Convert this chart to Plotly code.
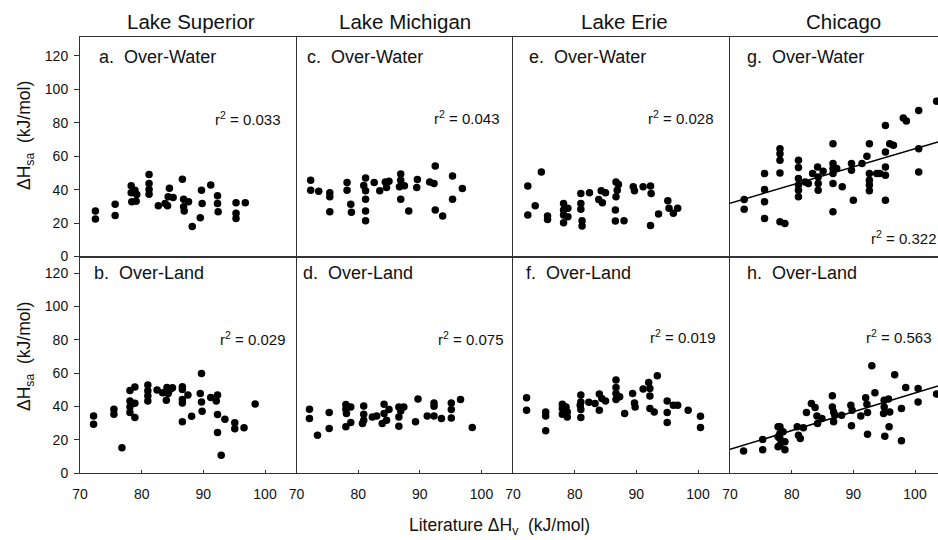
import numpy as np
import plotly.graph_objects as go

# ---------------- data ----------------
columns = ["Lake Superior", "Lake Michigan", "Lake Erie", "Chicago"]
panel_labels = ["a.  Over-Water", "c.  Over-Water", "e.  Over-Water", "g.  Over-Water",
                "b.  Over-Land", "d.  Over-Land", "f.  Over-Land", "h.  Over-Land"]
r2_values = ["0.033", "0.043", "0.028", "0.322", "0.029", "0.075", "0.019", "0.563"]
x_ticks = [70, 80, 90, 100]
y_ticks = [0, 20, 40, 60, 80, 100, 120]

sup_water_x = [72.5, 72.5, 75.7, 75.7, 78.3, 78.3, 78.4, 78.9, 79.1, 79.2, 81.2, 81.2, 81.2, 81.2,
               82.7, 83.8, 84.2, 84.5, 84.3, 85.1, 86.6, 86.8, 86.8, 86.9, 87.6, 88.2, 89.7, 89.8,
               89.5, 91.2, 92.3, 92.3, 92.4, 95.3, 95.3, 95.3, 96.8]
sup_water_y = [27.2, 22.4, 31.3, 24.6, 42.3, 38.1, 32.7, 39.7, 33.1, 37.1, 49.0, 43.7, 40.1, 37.3,
               30.4, 31.7, 30.4, 40.9, 35.7, 35.3, 46.2, 34.3, 29.8, 27.2, 32.7, 17.9, 39.7, 31.7,
               23.2, 42.7, 36.3, 31.7, 26.8, 32.1, 25.8, 22.8, 32.1]

sup_land_x = [72.2, 72.2, 75.5, 75.5, 76.8, 78.1, 78.1, 78.1, 78.1, 78.9, 78.9, 78.9, 81.0, 81.0,
              81.0, 81.0, 82.5, 83.4, 84.1, 84.0, 84.3, 84.7, 85.0, 86.6, 86.6, 86.6, 86.6, 86.6,
              87.5, 88.1, 89.5, 89.7, 89.7, 89.8, 91.2, 92.1, 92.3, 92.3, 92.3, 92.9, 93.5, 95.1,
              95.1, 96.6, 98.4]
sup_land_y = [34.3, 29.3, 38.3, 35.3, 15.1, 49.6, 43.3, 39.7, 36.3, 51.6, 41.9, 33.3, 52.8, 49.4,
              46.4, 43.3, 49.8, 48.2, 51.4, 43.7, 47.8, 50.4, 51.2, 51.8, 50.2, 44.2, 42.1, 30.7,
              46.8, 34.1, 47.8, 59.8, 42.7, 37.1, 45.4, 43.3, 46.8, 35.1, 24.3, 10.6, 32.3, 30.1,
              26.5, 27.1, 41.5]

mich_water_x = [72.3, 72.3, 73.6, 75.4, 75.4, 75.4, 78.2, 78.2, 78.8, 78.9, 81.2, 80.9, 81.2, 81.2,
                81.2, 81.2, 82.6, 83.5, 84.4, 85.0, 84.6, 86.9, 86.9, 86.7, 87.5, 86.9, 88.2, 89.6,
                89.5, 91.6, 92.3, 92.5, 92.5, 93.7, 95.3, 95.3, 96.9]
mich_water_y = [45.6, 39.7, 39.1, 38.1, 35.7, 26.8, 44.2, 39.7, 31.2, 26.4, 47.0, 42.5, 39.3, 34.3,
                27.2, 21.4, 44.2, 39.3, 44.6, 45.0, 41.3, 49.4, 45.6, 41.7, 42.3, 34.3, 27.2, 46.0,
                41.3, 44.6, 43.7, 54.2, 27.8, 24.2, 48.2, 34.3, 40.7]

mich_land_x = [72.1, 72.1, 73.4, 75.3, 75.3, 78.0, 78.0, 78.1, 78.0, 78.8, 78.8, 80.9, 80.9, 80.9,
               80.7, 82.3, 83.0, 83.9, 84.2, 84.2, 84.6, 85.0, 86.6, 86.6, 86.6, 87.4, 86.9, 89.7,
               89.3, 91.2, 92.3, 92.3, 92.3, 93.5, 95.1, 95.1, 95.1, 96.6, 98.5]
mich_land_y = [38.3, 32.7, 22.7, 36.3, 26.7, 41.1, 38.3, 35.7, 27.7, 39.7, 30.3, 40.3, 35.3, 31.7,
               29.7, 33.7, 34.3, 29.7, 41.3, 35.7, 31.7, 38.1, 39.7, 33.7, 28.1, 39.7, 37.3, 44.4,
               30.7, 34.3, 42.1, 40.1, 34.3, 32.7, 42.1, 38.1, 33.1, 44.2, 27.3]

erie_water_x = [72.4, 72.4, 73.6, 74.6, 75.6, 75.6, 78.2, 78.2, 78.2, 78.2, 78.9, 78.9, 81.0, 81.0,
                81.0, 81.2, 81.2, 82.4, 83.9, 84.3, 84.5, 85.0, 86.7, 86.9, 86.7, 86.6, 86.6, 87.1,
                88.0, 89.5, 89.7, 91.1, 92.3, 92.4, 92.3, 93.6, 95.1, 95.3, 96.0, 96.7]
erie_water_y = [42.1, 24.8, 30.4, 50.6, 24.2, 22.2, 31.7, 27.8, 24.8, 20.2, 28.8, 23.8, 37.7, 31.7,
                28.2, 21.4, 18.3, 38.1, 34.1, 39.3, 32.1, 38.1, 44.6, 39.7, 35.7, 27.8, 21.2, 43.1,
                21.4, 41.7, 39.3, 41.7, 42.1, 37.7, 18.5, 25.4, 33.3, 28.8, 25.8, 28.8]

erie_land_x = [72.2, 72.2, 75.3, 75.3, 75.3, 78.0, 78.0, 78.0, 78.6, 78.8, 78.8, 81.0, 81.0, 80.9,
               81.0, 81.0, 82.3, 83.3, 84.0, 84.0, 84.4, 85.0, 86.7, 86.7, 86.7, 86.7, 87.3, 88.1,
               89.4, 89.7, 89.8, 91.1, 92.0, 92.2, 92.2, 92.2, 92.9, 93.4, 95.0, 95.0, 95.0, 96.0,
               96.7, 98.4, 100.4, 100.4]
erie_land_y = [45.2, 37.7, 36.7, 34.3, 25.3, 41.3, 38.7, 35.3, 39.7, 36.7, 33.7, 46.8, 42.7, 40.7,
               38.1, 33.3, 42.5, 41.7, 47.4, 37.7, 44.8, 43.3, 55.8, 51.4, 47.8, 44.2, 45.8, 35.7,
               47.8, 42.1, 39.7, 50.4, 54.4, 50.8, 46.2, 38.7, 36.7, 58.4, 43.3, 36.3, 30.3, 40.7,
               40.7, 37.7, 34.1, 27.3]

chi_water_x = [72.3, 72.3, 75.6, 75.6, 75.6, 75.6, 78.1, 78.1, 78.1, 78.1, 78.1, 78.9, 81.1, 81.1,
               81.1, 81.1, 81.1, 81.1, 82.2, 82.7, 83.4, 84.2, 84.3, 84.3, 84.3, 85.1, 86.7, 86.7,
               86.7, 86.7, 86.7, 86.7, 87.3, 88.2, 89.7, 89.7, 90.0, 91.4, 92.2, 92.6, 92.6, 92.6,
               92.6, 92.6, 93.8, 94.3, 95.2, 95.2, 95.2, 95.2, 95.2, 95.9, 96.5, 98.1, 98.6, 100.6,
               100.6, 100.6, 103.5]
chi_water_y = [34.1, 28.2, 49.6, 40.1, 32.7, 22.8, 64.5, 61.5, 57.5, 50.0, 20.8, 19.8, 57.5, 53.2,
               46.6, 42.7, 39.7, 35.7, 44.6, 43.7, 49.6, 53.6, 47.6, 43.7, 39.7, 51.0, 67.5, 55.6,
               52.6, 49.6, 43.7, 26.8, 52.6, 41.7, 55.6, 51.6, 33.7, 55.6, 59.9, 67.5, 49.6, 45.6,
               42.7, 39.3, 49.6, 49.6, 78.4, 62.5, 53.6, 48.6, 33.7, 67.5, 66.5, 82.9, 81.0, 87.3,
               64.5, 50.6, 92.9]

chi_land_x = [72.2, 75.3, 75.3, 77.8, 77.8, 77.8, 78.1, 78.1, 78.1, 78.1, 78.6, 78.9, 78.9, 80.9,
              81.1, 81.4, 81.9, 82.4, 83.2, 83.8, 84.1, 84.2, 84.9, 86.6, 86.6, 86.8, 86.8, 87.0,
              88.1, 89.6, 89.8, 89.7, 91.2, 92.0, 92.2, 92.3, 92.3, 93.0, 93.5, 95.0, 95.0, 94.9,
              95.1, 95.7, 95.8, 95.9, 96.7, 97.8, 97.8, 98.5, 100.5, 100.5, 103.5]
chi_land_y = [13.2, 20.1, 14.0, 27.7, 21.7, 15.7, 27.7, 23.7, 20.7, 16.7, 24.7, 14.0, 18.7, 27.7,
              22.7, 20.7, 27.1, 36.3, 41.7, 39.3, 34.3, 29.7, 32.7, 46.4, 39.7, 36.7, 30.7, 34.7,
              34.7, 40.7, 37.7, 28.3, 34.3, 45.2, 41.3, 36.3, 23.3, 64.4, 48.2, 43.7, 39.7, 35.7,
              22.1, 44.4, 27.7, 36.7, 59.0, 38.7, 19.3, 51.4, 50.8, 42.7, 47.4]

# regression lines (slope, intercept)
chi_water_fit = (1.085, -44.05)
chi_land_fit = (1.128, -64.76)

panels_x = [sup_water_x, mich_water_x, erie_water_x, chi_water_x,
            sup_land_x, mich_land_x, erie_land_x, chi_land_x]
panels_y = [sup_water_y, mich_water_y, erie_water_y, chi_water_y,
            sup_land_y, mich_land_y, erie_land_y, chi_land_y]
fits = {3: chi_water_fit, 7: chi_land_fit}

# ---------------- layout geometry ----------------
W, H = 938, 540
ML, MR, MT, MB = 80, 0, 37, 67
PW, PH = W - ML - MR, H - MT - MB


def px(x):
    return (x - ML) / PW


def py(y):
    return (H - MB - y) / PH


col_edges = [80, 296.5, 513, 730, 938]
row_mid = 256.5
col_domains = [[px(col_edges[i]), px(col_edges[i + 1])] for i in range(4)]
row_domains = [[py(row_mid), 1.0], [0.0, py(row_mid)]]
PX_PER_UNIT = 6.167
x_ranges = [[70, 70 + (col_edges[i + 1] - col_edges[i]) / PX_PER_UNIT] for i in range(4)]
y_ranges = [[0, 131.3], [0, 130]]

FONT = "Liberation Sans, Arial, Helvetica, sans-serif"
INK = "#111111"
LINE = "#333333"

fig = go.Figure()
layout = dict(
    width=W, height=H,
    margin=dict(l=ML, r=MR, t=MT, b=MB),
    paper_bgcolor="white", plot_bgcolor="white",
    showlegend=False,
    font=dict(family=FONT, color=INK, size=14),
)

annotations = []
for k in range(8):
    r, c = divmod(k, 4)
    n = k + 1
    xa = "x" if n == 1 else f"x{n}"
    ya = "y" if n == 1 else f"y{n}"
    fig.add_trace(go.Scatter(
        x=panels_x[k], y=panels_y[k], mode="markers",
        marker=dict(color="black", size=7.5, line=dict(width=0)),
        xaxis=xa, yaxis=ya, hoverinfo="skip"))
    if k in fits:
        slope, intercept = fits[k]
        xs = np.array(x_ranges[c])
        fig.add_trace(go.Scatter(
            x=xs, y=slope * xs + intercept, mode="lines",
            line=dict(color="black", width=1.5),
            xaxis=xa, yaxis=ya, hoverinfo="skip"))
    layout[f"xaxis{'' if n == 1 else n}"] = dict(
        domain=col_domains[c], range=x_ranges[c], anchor=ya,
        showline=True, mirror=True, linecolor=LINE, linewidth=1,
        showgrid=False, zeroline=False,
        tickvals=x_ticks, ticks="inside" if r == 1 else "", ticklen=3,
        tickcolor=LINE, showticklabels=(r == 1),
        tickfont=dict(size=14, color=INK), ticklabelstandoff=8,
    )
    layout[f"yaxis{'' if n == 1 else n}"] = dict(
        domain=row_domains[r], range=y_ranges[r], anchor=xa,
        showline=True, mirror=False, linecolor=LINE, linewidth=1,
        showgrid=False, zeroline=False,
        tickvals=y_ticks, ticks="outside" if c == 0 else "", ticklen=5,
        tickcolor=LINE, showticklabels=(c == 0),
        tickfont=dict(size=14, color=INK), ticklabelstandoff=3,
    )

# column titles
col_title_x = [191, 405, 624, 843]
for c in range(4):
    annotations.append(dict(
        text=columns[c], x=px(col_title_x[c]), y=py(22), xref="paper", yref="paper",
        xanchor="center", yanchor="middle", showarrow=False,
        font=dict(size=20.5, color=INK, family=FONT)))

# panel labels
label_pos = [(96.5, 57), (305, 57), (526.5, 57), (745, 57),
             (91.5, 272.5), (301, 272.5), (523.5, 272.5), (745, 272.5)]
for k in range(8):
    lx, ly = label_pos[k]
    annotations.append(dict(
        text=panel_labels[k], x=px(lx), y=py(ly), xref="paper", yref="paper",
        xanchor="left", yanchor="middle", showarrow=False,
        font=dict(size=18, color=INK, family=FONT)))

# r^2 labels
r2_pos = [(282, 118, "right"), (500.5, 117, "right"), (714.5, 117, "right"), (869, 237, "left"),
          (286.5, 338, "right"), (505, 338, "right"), (717, 336, "right"), (933, 336, "right")]
for k in range(8):
    rx, ry, anc = r2_pos[k]
    annotations.append(dict(
        text=f"r<sup>2</sup> = {r2_values[k]}", x=px(rx), y=py(ry), xref="paper", yref="paper",
        xanchor=anc, yanchor="middle", showarrow=False,
        font=dict(size=15, color=INK, family=FONT)))

# axis titles
for ty in (136, 357):
    annotations.append(dict(
        text="ΔH<sub>sa</sub>  (kJ/mol)", x=px(25), y=py(ty), xref="paper", yref="paper",
        xanchor="center", yanchor="middle", textangle=-90, showarrow=False,
        font=dict(size=17.5, color=INK, family=FONT)))
annotations.append(dict(
    text="Literature ΔH<sub>v</sub>  (kJ/mol)", x=px(499), y=py(526), xref="paper", yref="paper",
    xanchor="center", yanchor="middle", showarrow=False,
    font=dict(size=17.5, color=INK, family=FONT)))

layout["annotations"] = annotations
fig.update_layout(**layout)
fig.write_html(
    "out.html",
    config={"displayModeBar": False},
    post_script="document.body.style.margin='0';document.body.style.overflow='hidden';",
)
